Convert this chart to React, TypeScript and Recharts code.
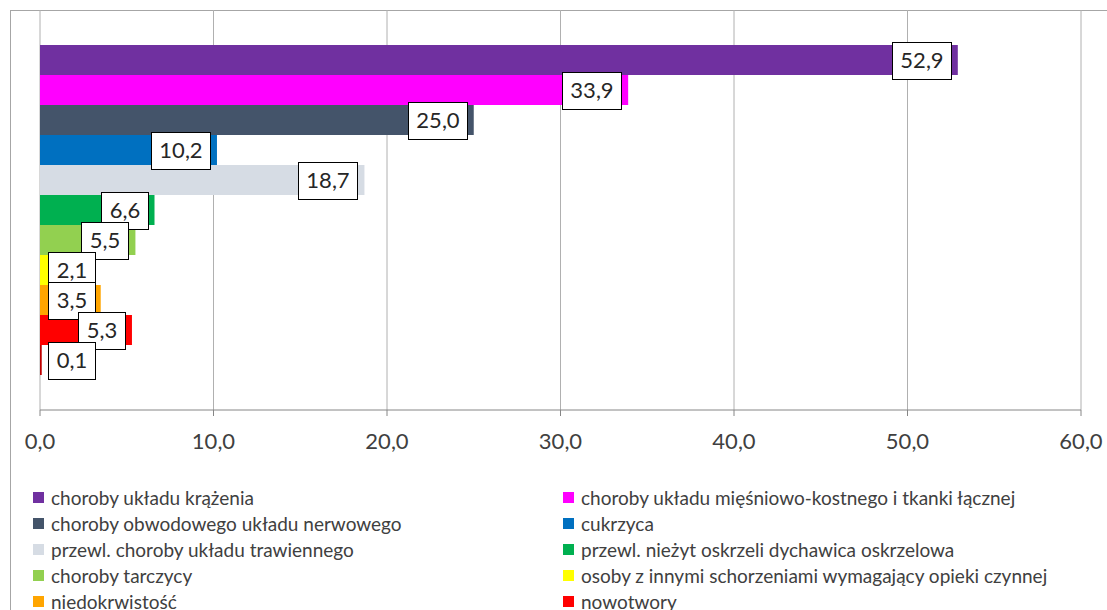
import React from 'react';
import { BarChart, Bar, XAxis, YAxis, CartesianGrid, LabelList, Legend } from 'recharts';

const categories = ['wskaźnik'];
const seriesNames = [
  'choroby układu krążenia',
  'choroby układu mięśniowo-kostnego i tkanki łącznej',
  'choroby obwodowego układu nerwowego',
  'cukrzyca',
  'przewl. choroby układu trawiennego',
  'przewl. nieżyt oskrzeli dychawica oskrzelowa',
  'choroby tarczycy',
  'osoby z innymi schorzeniami wymagający opieki czynnej',
  'niedokrwistość',
  'nowotwory',
  'gruźlica',
];
const seriesValues = [52.9, 33.9, 25.0, 10.2, 18.7, 6.6, 5.5, 2.1, 3.5, 5.3, 0.1];
const seriesColors = [
  '#7030A0', '#FF00FF', '#44546A', '#0070C0', '#D6DCE4', '#00B050',
  '#92D050', '#FFFF00', '#FFA500', '#FF0000', '#C00000',
];
const xTicks = [0, 10, 20, 30, 40, 50, 60];

const data = categories.map((c) => {
  const row: Record<string, any> = { name: c };
  seriesValues.forEach((v, i) => { row['s' + i] = v; });
  return row;
});

const fmt = (v: number) => Number(v).toFixed(1).replace('.', ',');
const FONT = 'Lato, "Open Sans", sans-serif';

const textWidth = (t: string, fs: number) => {
  let w = 0;
  for (const ch of t) w += ch === ',' ? 0.23 * fs : 0.58 * fs;
  return w;
};

const LabelBox = (props: any) => {
  const { x, y, width, height, value } = props;
  const txt = fmt(value);
  const fs = 22;
  const w = Math.round(textWidth(txt, fs) + 16);
  const h = 37;
  const end = x + width;
  const right = Math.max(end - 7, x + 8 + w);
  const left = Math.round(right - w) + 0.5;
  const cy = y + height / 2;
  const top = Math.round(cy - h / 2) + 0.5;
  return (
    <g>
      <rect x={left} y={top} width={w} height={h} fill="#ffffff" stroke="#000000" strokeWidth={1} />
      <text x={left + w / 2} y={cy + 0.36 * fs} textAnchor="middle" fontSize={fs} fontFamily={FONT} fill="#262626">
        {txt}
      </text>
    </g>
  );
};

const LegendContent = () => (
  <div style={{ position: 'relative', width: 1107, height: 140, fontFamily: FONT }}>
    {seriesNames.map((n, i) => {
      const col = i % 2;
      const row = Math.floor(i / 2);
      return (
        <div
          key={n}
          style={{
            position: 'absolute',
            left: col === 0 ? 33 : 563,
            top: row * 26.2,
            height: 26,
            display: 'flex',
            alignItems: 'center',
            whiteSpace: 'nowrap',
            fontSize: 19,
            color: '#404040',
          }}
        >
          <span style={{ display: 'inline-block', width: 11, height: 11, background: seriesColors[i], marginRight: 7 }} />
          <span>{n}</span>
        </div>
      );
    })}
  </div>
);

export default function App() {
  return (
    <div style={{ position: 'absolute', left: 0, top: 0, width: 1107, height: 610, overflow: 'hidden', background: '#ffffff' }}>
      <div
        style={{
          position: 'absolute', left: 10, top: 10, width: 1200, height: 700,
          borderLeft: '1px solid #a6a6a6', borderTop: '1px solid #a6a6a6',
        }}
      />
      <div style={{ position: 'absolute', left: 0, top: 0 }}>
        <BarChart
          width={1107}
          height={610}
          data={data}
          layout="vertical"
          margin={{ top: 10, right: 26, bottom: 160, left: 40 }}
          barGap={0}
        >
          <CartesianGrid horizontal={false} vertical stroke="#b0b0b0" />
          <XAxis
            type="number"
            domain={[0, 60]}
            ticks={xTicks}
            tickFormatter={fmt}
            height={40}
            axisLine={{ stroke: '#868686' }}
            tickLine={{ stroke: '#868686' }}
            tickSize={6}
            tickMargin={17}
            tick={{ fontSize: 22, fontFamily: FONT, fill: '#404040' }}
            interval={0}
          />
          <YAxis
            type="category"
            dataKey="name"
            width={0}
            tick={false}
            tickLine={false}
            axisLine={{ stroke: '#868686' }}
          />
          <Legend
            layout="horizontal"
            verticalAlign="middle"
            align="center"
            wrapperStyle={{ left: 0, top: 484, width: 1107 }}
            content={() => <LegendContent />}
          />
          {seriesValues.map((_, i) => (
            <Bar
              key={i}
              dataKey={'s' + i}
              name={seriesNames[i]}
              fill={seriesColors[i]}
              barSize={30}
              isAnimationActive={false}
            >
              <LabelList dataKey={'s' + i} content={<LabelBox />} />
            </Bar>
          ))}
        </BarChart>
      </div>
    </div>
  );
}
